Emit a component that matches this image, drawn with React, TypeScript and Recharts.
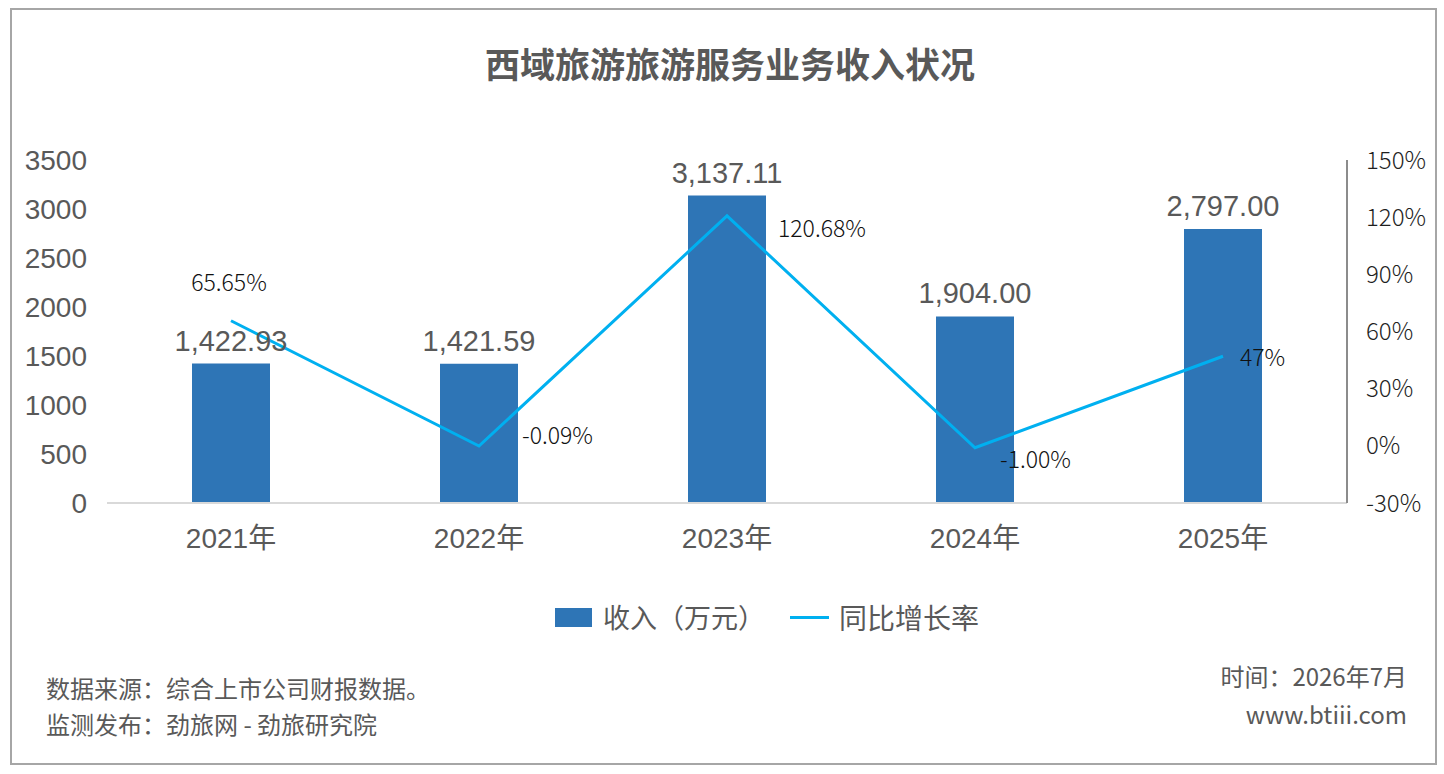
import React from 'react';
import {
  Bar,
  ComposedChart,
  LabelList,
  Line,
  XAxis,
  YAxis,
} from 'recharts';

const years = ['2021年', '2022年', '2023年', '2024年', '2025年'];
const revenue = [1422.93, 1421.59, 3137.11, 1904.0, 2797.0];
const growth = [65.65, -0.09, 120.68, -1.0, 47];
const growthLabels = ['65.65%', '-0.09%', '120.68%', '-1.00%', '47%'];

const leftTicks = [0, 500, 1000, 1500, 2000, 2500, 3000, 3500];
const rightTicks = [-30, 0, 30, 60, 90, 120, 150];

// where Excel put each growth label, relative to its point
const growthLabelShift = [
  { dx: -2, dy: -40, anchor: 'middle' },
  { dx: 43, dy: -12, anchor: 'start' },
  { dx: 51, dy: 11, anchor: 'start' },
  { dx: 25, dy: 10, anchor: 'start' },
  { dx: 17, dy: 0, anchor: 'start' },
];

const chartData = years.map((year, i) => ({
  year,
  revenue: revenue[i],
  growth: growth[i],
}));

const GREY = '#595959';
const LATIN = '"Liberation Sans", Arial, "Noto Sans CJK SC", sans-serif';
const CJK = '"Noto Sans CJK SC", "Noto Sans", sans-serif';

const fmtMoney = (v: any) =>
  Number(v).toLocaleString('en-US', {
    minimumFractionDigits: 2,
    maximumFractionDigits: 2,
  });

function GrowthLabel(props: any) {
  const { x, y, index } = props;
  const s = growthLabelShift[index] ?? { dx: 0, dy: 0, anchor: 'start' };
  return (
    <text
      x={Number(x) + s.dx}
      y={Number(y) + s.dy}
      textAnchor={s.anchor}
      dominantBaseline='central'
      fill='#111'
      fontSize={23}
      fontWeight={300}
      fontFamily={CJK}
    >
      {growthLabels[index]}
    </text>
  );
}

export default function App() {
  return (
    <div
      style={{
        position: 'relative',
        width: 1444,
        height: 774,
        background: '#fff',
        fontFamily: CJK,
        overflow: 'hidden',
      }}
    >
      <style>{'body{margin:0;}'}</style>
      <div
        style={{
          position: 'absolute',
          left: 10,
          top: 8,
          width: 1423,
          height: 753,
          border: '2px solid #a6a6a6',
        }}
      />

      <div
        style={{
          position: 'absolute',
          left: 0,
          width: 1460,
          top: 39,
          textAlign: 'center',
          fontSize: 35,
          fontWeight: 700,
          color: GREY,
          lineHeight: '48px',
        }}
      >
        西域旅游旅游服务业务收入状况
      </div>

      <div style={{ position: 'absolute', left: 0, top: 0 }}>
        <ComposedChart
          width={1444}
          height={774}
          data={chartData}
          margin={{ top: 160, right: 0, bottom: 211, left: 27 }}
        >
          <XAxis
            dataKey='year'
            height={60}
            tickLine={false}
            tickSize={0}
            tickMargin={25}
            axisLine={{ stroke: '#d9d9d9', strokeWidth: 2 }}
            tick={{ fill: GREY, fontSize: 28, fontFamily: LATIN }}
          />
          <YAxis
            yAxisId='left'
            width={80}
            domain={[0, 3500]}
            ticks={leftTicks}
            interval={0}
            axisLine={false}
            tickLine={false}
            tickSize={0}
            tickMargin={20}
            tick={{ fill: GREY, fontSize: 28, fontFamily: LATIN }}
          />
          <YAxis
            yAxisId='right'
            orientation='right'
            width={97}
            domain={[-30, 150]}
            ticks={rightTicks}
            interval={0}
            tickFormatter={(v) => `${v}%`}
            axisLine={{ stroke: '#8c8c8c', strokeWidth: 2 }}
            tickLine={false}
            tickSize={0}
            tickMargin={19}
            tick={{ fill: '#1f1f1f', fontSize: 24, fontWeight: 300, fontFamily: CJK }}
          />
          <Bar
            yAxisId='left'
            dataKey='revenue'
            fill='#2e75b6'
            barSize={78}
            isAnimationActive={false}
          >
            <LabelList
              dataKey='revenue'
              position='top'
              offset={13}
              formatter={fmtMoney}
              fill={GREY}
              fontSize={29}
              fontFamily={LATIN}
            />
          </Bar>
          <Line
            yAxisId='right'
            dataKey='growth'
            type='linear'
            stroke='#00b0f0'
            strokeWidth={3}
            dot={false}
            activeDot={false}
            isAnimationActive={false}
          >
            <LabelList dataKey='growth' content={GrowthLabel} />
          </Line>
        </ComposedChart>
      </div>

      <div
        style={{
          position: 'absolute',
          top: 599,
          left: 555,
          display: 'flex',
          alignItems: 'center',
          color: GREY,
          fontSize: 27,
          lineHeight: '36px',
        }}
      >
        <span
          style={{
            display: 'inline-block',
            width: 37,
            height: 19,
            background: '#2e75b6',
            marginRight: 11,
          }}
        />
        <span>收入（万元）</span>
        <span
          style={{
            display: 'inline-block',
            width: 39,
            height: 3,
            background: '#00b0f0',
            marginLeft: 25,
            marginRight: 10,
          }}
        />
        <span style={{ fontSize: 28 }}>同比增长率</span>
      </div>

      <div
        style={{
          position: 'absolute',
          left: 46,
          top: 670,
          color: GREY,
          fontSize: 24,
          lineHeight: '36px',
        }}
      >
        <div>数据来源：综合上市公司财报数据。</div>
        <div>监测发布：劲旅网 - 劲旅研究院</div>
      </div>
      <div
        style={{
          position: 'absolute',
          right: 1444 - 1407,
          top: 657,
          color: GREY,
          fontSize: 24,
          lineHeight: '38px',
          textAlign: 'right',
        }}
      >
        <div>时间：2026年7月</div>
        <div>www.btiii.com</div>
      </div>
    </div>
  );
}
